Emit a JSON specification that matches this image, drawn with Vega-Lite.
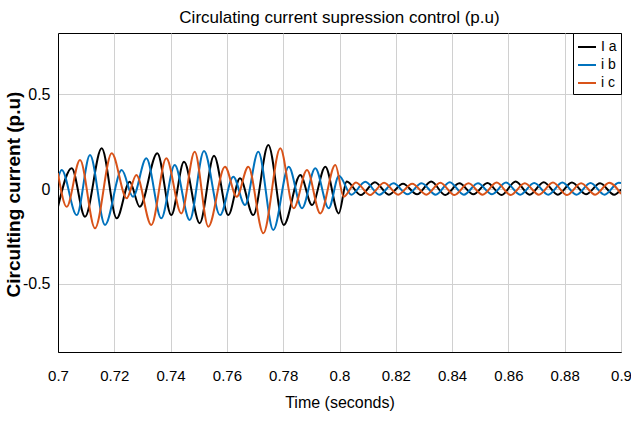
{
  "$schema": "https://vega.github.io/schema/vega-lite/v6.json",
  "width": 563,
  "height": 319,
  "autosize": {"type": "none"},
  "padding": {"left": 58, "top": 33, "right": 10, "bottom": 69},
  "background": "white",
  "title": {
    "text": "Circulating current  supression control (p.u)",
    "font": "Liberation Sans",
    "fontSize": 17,
    "fontWeight": "normal",
    "color": "black",
    "anchor": "middle",
    "offset": 6
  },
  "config": {
    "view": {"stroke": "black", "strokeWidth": 1},
    "axis": {
      "gridColor": "#d0d0d0",
      "gridWidth": 1,
      "domainColor": "black",
      "ticks": false,
      "labelColor": "black",
      "titleColor": "black",
      "labelFont": "Liberation Sans",
      "titleFont": "Liberation Sans",
      "titleFontWeight": "normal"
    }
  },
  "data": {
    "values": [
      {"t":0.7,"v":-0.094,"s":"I a"},{"t":0.70487,"v":0.110,"s":"I a"},{"t":0.70959,"v":-0.147,"s":"I a"},{"t":0.71552,"v":0.215,"s":"I a"},{"t":0.72085,"v":-0.155,"s":"I a"},{"t":0.72547,"v":0.039,"s":"I a"},{"t":0.72902,"v":-0.094,"s":"I a"},{"t":0.73528,"v":0.189,"s":"I a"},{"t":0.74025,"v":-0.138,"s":"I a"},{"t":0.74476,"v":0.144,"s":"I a"},{"t":0.75034,"v":-0.181,"s":"I a"},{"t":0.75542,"v":0.176,"s":"I a"},{"t":0.7605,"v":-0.138,"s":"I a"},{"t":0.76465,"v":0.057,"s":"I a"},{"t":0.76938,"v":-0.138,"s":"I a"},{"t":0.77471,"v":0.233,"s":"I a"},{"t":0.78018,"v":-0.19,"s":"I a"},{"t":0.78608,"v":0.074,"s":"I a"},{"t":0.79023,"v":-0.085,"s":"I a"},{"t":0.79496,"v":0.118,"s":"I a"},{"t":0.79972,"v":-0.129,"s":"I a"},{"t":0.80256,"v":0.04,"s":"I a"},{"t":0.80756,"v":-0.032,"s":"I a"},{"t":0.81256,"v":0.036,"s":"I a"},{"t":0.81756,"v":-0.03,"s":"I a"},{"t":0.82256,"v":0.028,"s":"I a"},{"t":0.82756,"v":-0.028,"s":"I a"},{"t":0.83256,"v":0.04,"s":"I a"},{"t":0.83756,"v":-0.032,"s":"I a"},{"t":0.84256,"v":0.03,"s":"I a"},{"t":0.84756,"v":-0.028,"s":"I a"},{"t":0.85256,"v":0.032,"s":"I a"},{"t":0.85756,"v":-0.032,"s":"I a"},{"t":0.86256,"v":0.04,"s":"I a"},{"t":0.86756,"v":-0.03,"s":"I a"},{"t":0.87256,"v":0.036,"s":"I a"},{"t":0.87756,"v":-0.03,"s":"I a"},{"t":0.88256,"v":0.034,"s":"I a"},{"t":0.88756,"v":-0.028,"s":"I a"},{"t":0.89256,"v":0.03,"s":"I a"},{"t":0.89756,"v":-0.03,"s":"I a"},{"t":0.9,"v":-0.002,"s":"I a"},
      {"t":0.7,"v":0.057,"s":"i b"},{"t":0.70131,"v":0.1,"s":"i b"},{"t":0.70664,"v":-0.138,"s":"i b"},{"t":0.71137,"v":0.18,"s":"i b"},{"t":0.7167,"v":-0.19,"s":"i b"},{"t":0.72263,"v":0.1,"s":"i b"},{"t":0.72664,"v":-0.041,"s":"i b"},{"t":0.73137,"v":0.162,"s":"i b"},{"t":0.7367,"v":-0.155,"s":"i b"},{"t":0.74146,"v":0.127,"s":"i b"},{"t":0.74678,"v":-0.164,"s":"i b"},{"t":0.75187,"v":0.201,"s":"i b"},{"t":0.75755,"v":-0.138,"s":"i b"},{"t":0.76227,"v":0.065,"s":"i b"},{"t":0.76643,"v":-0.085,"s":"i b"},{"t":0.77115,"v":0.197,"s":"i b"},{"t":0.77648,"v":-0.217,"s":"i b"},{"t":0.78195,"v":0.118,"s":"i b"},{"t":0.78668,"v":-0.102,"s":"i b"},{"t":0.7914,"v":0.11,"s":"i b"},{"t":0.79616,"v":-0.102,"s":"i b"},{"t":0.79982,"v":0.07,"s":"i b"},{"t":0.80417,"v":-0.03,"s":"i b"},{"t":0.80917,"v":0.038,"s":"i b"},{"t":0.81417,"v":-0.03,"s":"i b"},{"t":0.81917,"v":0.03,"s":"i b"},{"t":0.82417,"v":-0.028,"s":"i b"},{"t":0.82917,"v":0.03,"s":"i b"},{"t":0.83417,"v":-0.03,"s":"i b"},{"t":0.83917,"v":0.036,"s":"i b"},{"t":0.84417,"v":-0.03,"s":"i b"},{"t":0.84917,"v":0.03,"s":"i b"},{"t":0.85417,"v":-0.028,"s":"i b"},{"t":0.85917,"v":0.034,"s":"i b"},{"t":0.86417,"v":-0.03,"s":"i b"},{"t":0.86917,"v":0.032,"s":"i b"},{"t":0.87417,"v":-0.03,"s":"i b"},{"t":0.87917,"v":0.034,"s":"i b"},{"t":0.88417,"v":-0.03,"s":"i b"},{"t":0.88917,"v":0.032,"s":"i b"},{"t":0.89417,"v":-0.03,"s":"i b"},{"t":0.89917,"v":0.033,"s":"i b"},{"t":0.9,"v":0.032,"s":"i b"},
      {"t":0.7,"v":0.083,"s":"i c"},{"t":0.70309,"v":-0.094,"s":"i c"},{"t":0.70782,"v":0.153,"s":"i c"},{"t":0.71314,"v":-0.208,"s":"i c"},{"t":0.71908,"v":0.189,"s":"i c"},{"t":0.7244,"v":-0.049,"s":"i c"},{"t":0.72782,"v":0.074,"s":"i c"},{"t":0.73314,"v":-0.19,"s":"i c"},{"t":0.73847,"v":0.162,"s":"i c"},{"t":0.7438,"v":-0.129,"s":"i c"},{"t":0.74856,"v":0.197,"s":"i c"},{"t":0.75339,"v":-0.199,"s":"i c"},{"t":0.75932,"v":0.118,"s":"i c"},{"t":0.76348,"v":-0.041,"s":"i c"},{"t":0.7676,"v":0.118,"s":"i c"},{"t":0.77293,"v":-0.234,"s":"i c"},{"t":0.77897,"v":0.215,"s":"i c"},{"t":0.78373,"v":-0.102,"s":"i c"},{"t":0.78845,"v":0.1,"s":"i c"},{"t":0.79318,"v":-0.129,"s":"i c"},{"t":0.79851,"v":0.127,"s":"i c"},{"t":0.80149,"v":-0.041,"s":"i c"},{"t":0.80583,"v":0.035,"s":"i c"},{"t":0.81083,"v":-0.032,"s":"i c"},{"t":0.81583,"v":0.033,"s":"i c"},{"t":0.82083,"v":-0.03,"s":"i c"},{"t":0.82583,"v":0.028,"s":"i c"},{"t":0.83083,"v":-0.03,"s":"i c"},{"t":0.83583,"v":0.033,"s":"i c"},{"t":0.84083,"v":-0.032,"s":"i c"},{"t":0.84583,"v":0.03,"s":"i c"},{"t":0.85083,"v":-0.03,"s":"i c"},{"t":0.85583,"v":0.034,"s":"i c"},{"t":0.86083,"v":-0.032,"s":"i c"},{"t":0.86583,"v":0.03,"s":"i c"},{"t":0.87083,"v":-0.03,"s":"i c"},{"t":0.87583,"v":0.034,"s":"i c"},{"t":0.88083,"v":-0.032,"s":"i c"},{"t":0.88583,"v":0.03,"s":"i c"},{"t":0.89083,"v":-0.03,"s":"i c"},{"t":0.89583,"v":0.033,"s":"i c"},{"t":0.9,"v":-0.026,"s":"i c"}
    ]
  },
  "mark": {"type": "line", "interpolate": "monotone", "strokeWidth": 2, "clip": true},
  "encoding": {
    "x": {
      "field": "t",
      "type": "quantitative",
      "scale": {"domain": [0.7, 0.9], "nice": false, "zero": false},
      "axis": {
        "values": [0.7, 0.72, 0.74, 0.76, 0.78, 0.8, 0.82, 0.84, 0.86, 0.88, 0.9],
        "format": ".2~f",
        "labelFontSize": 15,
        "labelPadding": 16,
        "labelFlush": false,
        "title": "Time (seconds)",
        "titleFontSize": 16,
        "titlePadding": 11
      }
    },
    "y": {
      "field": "v",
      "type": "quantitative",
      "scale": {"domain": [-0.862, 0.825], "nice": false, "zero": false},
      "axis": {
        "values": [-0.5, 0, 0.5],
        "labelExpr": "datum.value == 0 ? '0' : replace(format(datum.value, '.1f'), '\u2212', '-')",
        "labelFontSize": 16,
        "labelPadding": 8,
        "title": "Circulting current (p.u)",
        "titleFont": "Liberation Sans",
        "titleFontSize": 19,
        "titleFontWeight": "bold",
        "titleX": -45,
        "titleY": 161,
        "titleAngle": 270,
        "titleAlign": "center",
        "titleBaseline": "middle"
      }
    },
    "color": {
      "field": "s",
      "type": "nominal",
      "scale": {"domain": ["I a", "i b", "i c"], "range": ["#000000", "#0072BD", "#D95319"]},
      "legend": {
        "title": null,
        "orient": "top-right",
        "offset": 0,
        "strokeColor": "black",
        "fillColor": "white",
        "padding": 4,
        "symbolType": "stroke",
        "symbolSize": 324,
        "symbolStrokeWidth": 2,
        "labelFont": "Liberation Sans",
        "labelFontSize": 14,
        "labelColor": "black",
        "rowPadding": 1
      }
    }
  }
}
